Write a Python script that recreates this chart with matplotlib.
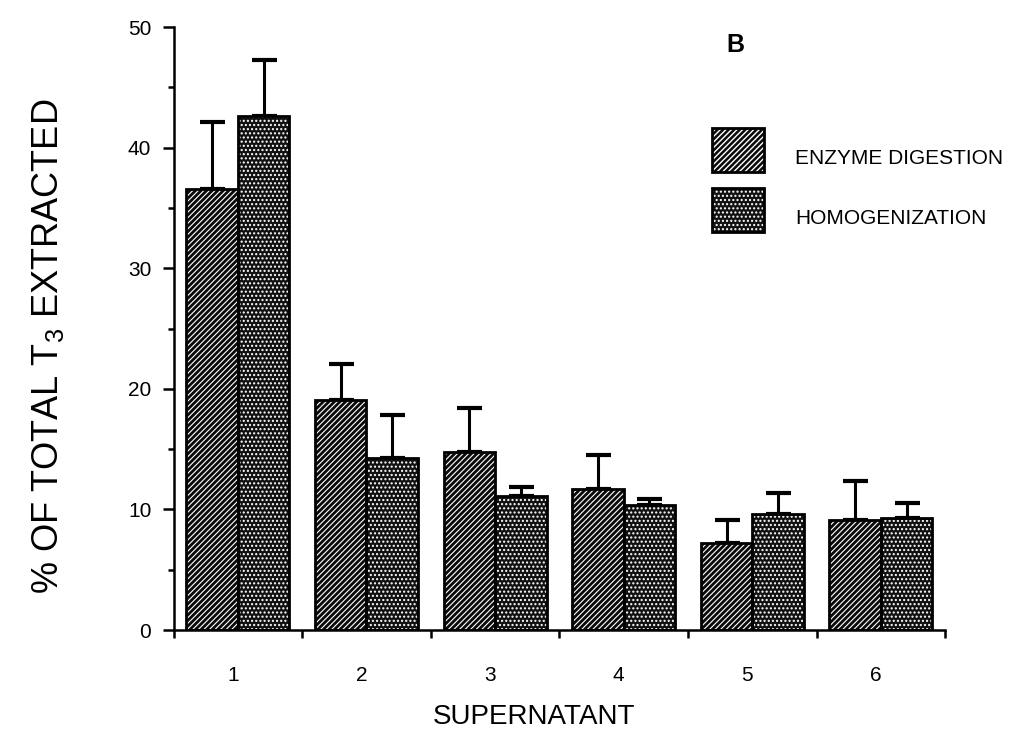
import matplotlib.pyplot as plt
import matplotlib.transforms as mtransforms
import numpy as np
from matplotlib.ticker import MultipleLocator, FixedLocator

plt.rcParams['font.family'] = ['Liberation Sans', 'DejaVu Sans']
plt.rcParams['mathtext.default'] = 'regular'
plt.rcParams['hatch.color'] = 'white'

supernatants = ['1', '2', '3', '4', '5', '6']
enzyme = [36.6, 19.1, 14.8, 11.7, 7.2, 9.1]
enzyme_err = [5.5, 3.0, 3.6, 2.8, 1.9, 3.3]
homog = [42.6, 14.3, 11.1, 10.4, 9.6, 9.3]
homog_err = [4.7, 3.5, 0.8, 0.5, 1.8, 1.2]

fig = plt.figure(figsize=(10.33, 7.51), dpi=100)
ax = fig.add_axes([0.168, 0.161, 0.747, 0.803])

x = np.arange(len(supernatants))
w = 0.4

# fill + white hatch first, black outline on top
with plt.rc_context({'hatch.linewidth': 0.8}):
    b1 = ax.bar(x + 0.3, enzyme, w, color='#0a0a0a', hatch='//////', zorder=2)
with plt.rc_context({'hatch.linewidth': 1.0}):
    b2 = ax.bar(x + 0.7, homog, w, color='#111111', hatch='....', zorder=2)
o1 = ax.bar(x + 0.3, enzyme, w, fill=False, edgecolor='black', linewidth=2, zorder=3)
o2 = ax.bar(x + 0.7, homog, w, fill=False, edgecolor='black', linewidth=2, zorder=3)

ax.errorbar(x + 0.3, enzyme, yerr=[np.zeros(6), enzyme_err], fmt='none',
            ecolor='black', elinewidth=2.2, capsize=9, capthick=3, zorder=1)
ax.errorbar(x + 0.7, homog, yerr=[np.zeros(6), homog_err], fmt='none',
            ecolor='black', elinewidth=2.2, capsize=9, capthick=3, zorder=1)

ax.set_xlim(0, 6)
ax.set_ylim(0, 50)
for s in ['top', 'right']:
    ax.spines[s].set_visible(False)
for s in ['left', 'bottom']:
    ax.spines[s].set_linewidth(1.8)

ax.yaxis.set_major_locator(MultipleLocator(10))
ax.yaxis.set_minor_locator(MultipleLocator(5))
ax.tick_params(axis='y', which='major', length=8, width=1.8, labelsize=15, pad=8)
ax.tick_params(axis='y', which='minor', length=4, width=1.8)

ax.xaxis.set_major_locator(FixedLocator(np.arange(0, 7)))
ax.set_xticklabels([])
ax.xaxis.set_minor_locator(FixedLocator(x + 0.46))
ax.xaxis.set_ticklabels(supernatants, minor=True)
ax.tick_params(axis='x', which='major', length=6, width=1.8)
ax.tick_params(axis='x', which='minor', length=0, labelsize=15, pad=26)

ax.set_ylabel('% OF TOTAL T$_3$ EXTRACTED', fontsize=26)
ax.yaxis.set_label_coords(-0.14, 0.47)
ax.set_xlabel('SUPERNATANT', fontsize=20)
ax.xaxis.set_label_coords(0.467, -0.122)

ax.text(0.728, 0.99, 'B', transform=ax.transAxes, fontsize=18,
        fontweight='bold', va='top', ha='center')

leg = ax.legend([(b1[0], o1[0]), (b2[0], o2[0])],
                ['ENZYME DIGESTION', 'HOMOGENIZATION'],
                loc='upper left', bbox_to_anchor=(0.689, 0.83),
                bbox_transform=fig.transFigure, frameon=False, fontsize=15,
                handlelength=2.5, handleheight=2.9, labelspacing=0.75,
                handletextpad=1.5, borderpad=0, borderaxespad=0)
# labels sit a little below the middle of their swatches
for t in leg.get_texts():
    t.set_transform(t.get_transform() + mtransforms.Affine2D().translate(0, -8))

fig.savefig('out.png', dpi=100)
